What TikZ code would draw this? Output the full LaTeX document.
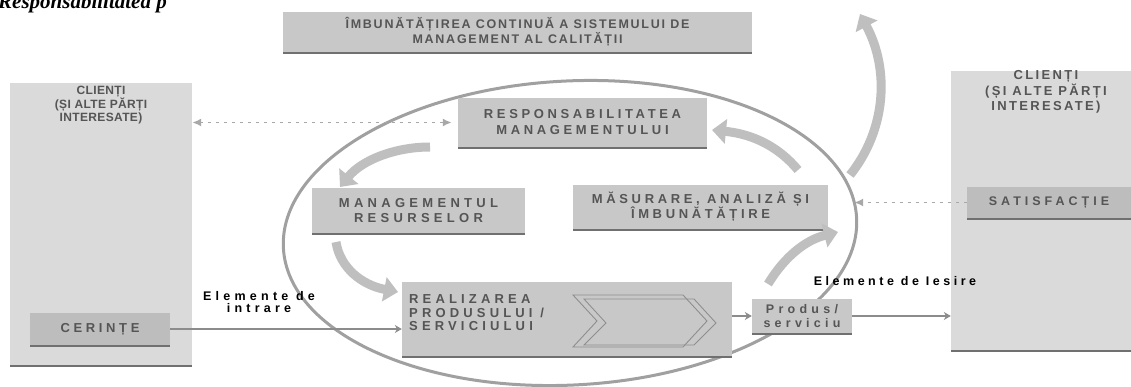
\documentclass[tikz,border=0pt]{standalone}
\usepackage{fontspec}
\setmainfont{Liberation Sans}
\newfontfamily\serifbi{Liberation Serif}
\usetikzlibrary{arrows.meta,shadows}
\definecolor{boxgray}{HTML}{C8C8C8}
\definecolor{bigbox}{HTML}{DADADA}
\definecolor{subbox}{HTML}{BDBDBD}
\definecolor{shadegray}{HTML}{707070}
\definecolor{textgray}{HTML}{555555}
\definecolor{linegray}{HTML}{8C8C8C}
\definecolor{dotgray}{HTML}{A8A8A8}
\definecolor{arrowgray}{HTML}{BFBFBF}
\definecolor{ellgray}{HTML}{A0A0A0}
\definecolor{chevgray}{HTML}{8E8E8E}
\newcommand{\fsz}[2]{\fontsize{#1}{#2}\selectfont}
\newcommand{\lsp}[1]{\addfontfeatures{LetterSpace=#1}}
\tikzset{
  box/.style={fill=boxgray, inner sep=0pt, general shadow={fill=shadegray, shadow yshift=-1.6pt, shadow xshift=0pt}},
  txt/.style={text=textgray, align=center, inner sep=0pt},
  lbl/.style={text=black, align=center, inner sep=0pt},
  conn/.style={draw=linegray, line width=2.2pt, -{Stealth[length=7pt,width=8pt]}},
  dotconn/.style={draw=dotgray, line width=1.8pt, dash pattern=on 3pt off 5pt},
  fat/.style={draw=arrowgray, line width=9pt, -{Triangle[length=14pt,width=24pt]}},
  chev/.style={draw=chevgray, line width=0.9pt, fill=none},
}
\begin{document}
\begin{tikzpicture}[x=1pt,y=-1pt]
\useasboundingbox (0,0) rectangle (1131,387);
\clip (0,0) rectangle (1131,387);
\fill[white] (0,0) rectangle (1131,387);

% cut-off heading
\node[anchor=base west, inner sep=0pt, font=\serifbi\bfseries\itshape\fsz{21}{24}] (title) at (-2,9) {Responsabilitatea p};

% top box
\node[box, txt, minimum width=469pt, minimum height=40pt, font=\bfseries\fsz{12.5}{13.5}\lsp{14}] (imb) at (517.5,32) {ÎMBUNĂTĂȚIREA CONTINUĂ A SISTEMULUI DE\\MANAGEMENT AL CALITĂȚII};

% left customers
\node[box, fill=bigbox, minimum width=182pt, minimum height=282pt] (cl) at (101,224) {};
\node[txt, font=\bfseries\fsz{12}{13}\lsp{3}] (clt) at (101,105) {CLIENȚI\\(ȘI ALTE PĂRȚI\\INTERESATE)};
\node[box, fill=subbox, txt, minimum width=140pt, minimum height=32pt, font=\bfseries\fsz{13}{14}\lsp{28}] (cer) at (100,329) {CERINȚE};

% right customers
\node[box, fill=bigbox, minimum width=180pt, minimum height=279pt] (cr) at (1041,210.5) {};
\node[txt, font=\bfseries\fsz{13}{15.5}\lsp{18}] (crt) at (1046,92) {CLIENȚI\\(ȘI ALTE PĂRȚI\\INTERESATE)};
\node[box, fill=subbox, txt, minimum width=164pt, minimum height=31pt, font=\bfseries\fsz{12.5}{14}\lsp{32}] (sat) at (1049,202.5) {SATISFACȚIE};

% ellipse
\draw[ellgray, line width=3pt, rotate around={3:(570,233)}] (570,233) ellipse [x radius=287pt, y radius=152pt];

% inner boxes
\node[box, txt, minimum width=249pt, minimum height=49pt, font=\bfseries\fsz{13}{16}\lsp{28}] (resp) at (582.5,122.5) {RESPONSABILITATEA\\MANAGEMENTULUI};
\node[box, txt, minimum width=213pt, minimum height=45pt, font=\bfseries\fsz{13}{15}\lsp{33}] (mgmt) at (418.5,210.5) {MANAGEMENTUL\\RESURSELOR};
\node[box, txt, minimum width=255pt, minimum height=44pt, font=\bfseries\fsz{13}{15}\lsp{28}] (mas) at (700.5,207) {MĂSURARE, ANALIZĂ ȘI\\ÎMBUNĂTĂȚIRE};
\node[box, minimum width=330pt, minimum height=74pt] (real) at (567,319) {};
\node[txt, align=left, anchor=west, font=\bfseries\fsz{13}{13.5}\lsp{32}] (realt) at (409,313) {REALIZAREA\\PRODUSULUI /\\SERVICIULUI};
\node[box, txt, minimum width=100pt, minimum height=34pt, font=\bfseries\fsz{12.5}{13.5}\lsp{34}] (prod) at (802,316) {Produs/\\serviciu};

% chevrons inside the realisation box
\draw[chev] (573,295) -- (683,295) -- (707,321) -- (683,347) -- (573,347) -- (597,321) -- cycle;
\draw[chev] (584,299) -- (694,299) -- (716,323) -- (694,345) -- (584,345) -- (606,323) -- cycle;

% labels
\node[lbl, font=\bfseries\fsz{12.5}{12}\lsp{34}] (inl) at (259,302) {Elemente de\\intrare};
\node[lbl, font=\bfseries\fsz{12.5}{12}\lsp{28}] (outl) at (895,281) {Elemente de Iesire};

% connectors
\draw[conn] (cer.east) -- (cer.east -| real.west);
\draw[conn, line width=1.8pt] (prod.west -| real.east) -- (prod.west);
\draw[conn] (prod.east) -- (prod.east -| cr.west);
\draw[dotconn, {Latex[length=9pt,width=8pt]}-{Latex[length=9pt,width=8pt]}, shorten >=6pt] (resp.west -| cl.east) -- (resp.west);
\draw[dotconn, -{Latex[length=9pt,width=8pt]}, shorten >=26pt] (sat.west) -- (sat.west -| mas.east);

% fat circulation arrows
\coordinate (a1s) at (430,147); \coordinate (a1e) at (340,187);
\coordinate (a2s) at (336,242); \coordinate (a2e) at (398,292);
\coordinate (a3s) at (768,284); \coordinate (a3e) at (838,232);
\coordinate (a4s) at (798,170); \coordinate (a4e) at (712,130);
\coordinate (a5s) at (850,175); \coordinate (a5e) at (860,14);
\draw[fat] (a1s) .. controls (395,147) and (362,160) .. (a1e);
\draw[fat] (a2s) .. controls (340,268) and (362,285) .. (a2e);
\draw[fat] (a3s) .. controls (785,256) and (806,240) .. (a3e);
\draw[fat] (a4s) .. controls (778,146) and (752,134) .. (a4e);
\draw[fat] (a5s) .. controls (886,130) and (890,70) .. (a5e);
\end{tikzpicture}
\end{document}
